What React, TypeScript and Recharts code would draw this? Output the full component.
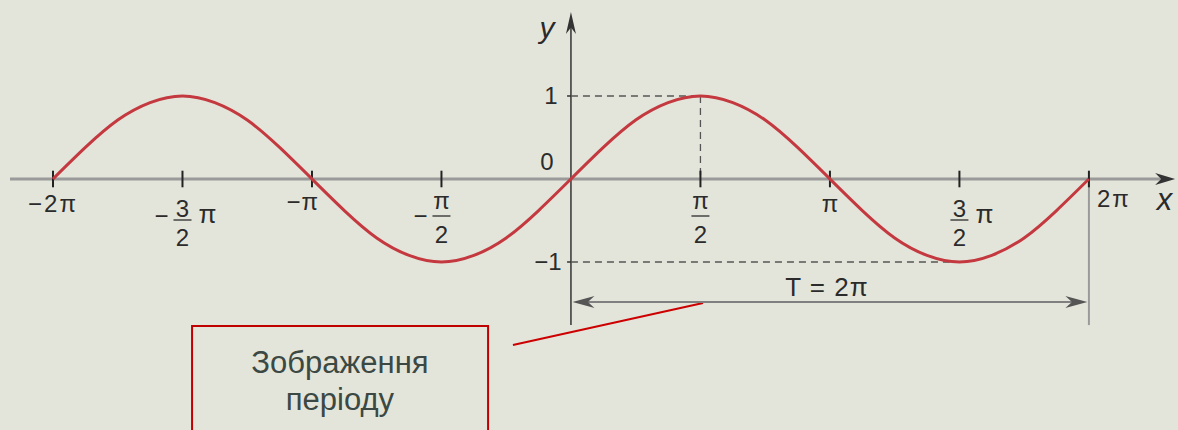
import React from "react";
import {
  LineChart,
  Line,
  XAxis,
  YAxis,
  ReferenceLine,
  ReferenceDot,
  ReferenceArea,
} from "recharts";

// x is in units of pi
const xPi = [
  -2, -1.875, -1.75, -1.625, -1.5, -1.375, -1.25, -1.125, -1, -0.875, -0.75,
  -0.625, -0.5, -0.375, -0.25, -0.125, 0, 0.125, 0.25, 0.375, 0.5, 0.625, 0.75,
  0.875, 1, 1.125, 1.25, 1.375, 1.5, 1.625, 1.75, 1.875, 2,
];
const sinY = [
  0, 0.38, 0.71, 0.92, 1, 0.92, 0.71, 0.38, 0, -0.38, -0.71, -0.92, -1, -0.92,
  -0.71, -0.38, 0, 0.38, 0.71, 0.92, 1, 0.92, 0.71, 0.38, 0, -0.38, -0.71,
  -0.92, -1, -0.92, -0.71, -0.38, 0,
];

const tickValues = [-2, -1.5, -1, -0.5, 0.5, 1, 1.5, 2];
const tickLabels = ["−2π", "−3/2π", "−π", "−π/2", "π/2", "π", "3/2π", "2π"];

const periodLabel = "T = 2π";
const calloutLines = ["Зображення", "періоду"];

const data = xPi.map((x, i) => ({ x, y: sinY[i] }));

const BG = "#e4e5da";
const INK = "#2b2b2b";
const FONT = "'Liberation Sans', Arial, sans-serif";

const txt = (content: string, dx: number, dy: number, opts: any = {}) => (props: any) =>
  (
    <text
      x={props.cx + dx}
      y={props.cy + dy}
      textAnchor={opts.anchor || "middle"}
      fontSize={opts.size || 24}
      fontStyle={opts.italic ? "italic" : "normal"}
      letterSpacing={opts.spacing || 0}
      fill={opts.fill || INK}
      fontFamily={FONT}
    >
      {content}
    </text>
  );

// renders tick labels, including stacked fractions
const tickLabelShape = (label: string, value: number) => (props: any) => {
  const { cx, cy } = props;
  const common = { fill: INK, fontFamily: FONT, fontSize: 24 };
  if (label.includes("/")) {
    const neg = label.startsWith("−");
    const body = neg ? label.slice(1) : label;
    const [num, rest] = body.split("/");
    const den = rest.replace("π", "");
    const trailing = rest.includes("π");
    const piNum = num === "π";
    const barY = cy + (piNum ? 37 : 41);
    return (
      <g>
        {neg && (
          <text x={cx - 21} y={cy + 45} textAnchor="middle" {...common}>
            −
          </text>
        )}
        <text x={cx} y={cy + (piNum ? 30 : 38)} textAnchor="middle" {...common}>
          {num}
        </text>
        <line x1={cx - 9} x2={cx + 9} y1={barY} y2={barY} stroke={INK} strokeWidth={1.3} />
        <text x={cx} y={cy + (piNum ? 64 : 67)} textAnchor="middle" {...common}>
          {den}
        </text>
        {trailing && (
          <text x={cx + 16} y={cy + 44} textAnchor="start" {...common} fontSize={26}>
            π
          </text>
        )}
      </g>
    );
  }
  if (value === 2) {
    return (
      <text x={cx + 8} y={cy + 28} textAnchor="start" letterSpacing={2} {...common}>
        {label}
      </text>
    );
  }
  if (value === -1) {
    return (
      <text x={cx + 7} y={cy + 31} textAnchor="end" letterSpacing={1} {...common}>
        {label}
      </text>
    );
  }
  return (
    <text x={cx} y={cy + 33} textAnchor="middle" letterSpacing={value === -2 ? 2 : 0} {...common}>
      {label}
    </text>
  );
};

const arrow = (dir: "right" | "left" | "up", len: number, half: number, fill: string) => (props: any) => {
  const { cx, cy } = props;
  let pts = "";
  if (dir === "right") pts = `${cx},${cy} ${cx - len},${cy - half} ${cx - len * 0.7},${cy} ${cx - len},${cy + half}`;
  if (dir === "left") pts = `${cx},${cy} ${cx + len},${cy - half} ${cx + len * 0.7},${cy} ${cx + len},${cy + half}`;
  if (dir === "up") pts = `${cx},${cy} ${cx - half},${cy + len} ${cx},${cy + len * 0.7} ${cx + half},${cy + len}`;
  return <polygon points={pts} fill={fill} />;
};

export default function App() {
  return (
    <div style={{ position: "fixed", left: 0, top: 0, width: 1178, height: 430, background: BG }}>
      <LineChart width={1178} height={430} data={data} margin={{ top: 10, right: 0, bottom: 0, left: 10 }}>
        <XAxis type="number" dataKey="x" domain={[-2.166, 2.344]} hide allowDataOverflow />
        <YAxis type="number" domain={[-3.024, 2.036]} hide allowDataOverflow />

        {/* callout box */}
        <ReferenceArea
          x1={-1.463}
          x2={-0.32}
          y1={-1.771}
          y2={-3.3}
          ifOverflow="visible"
          fill="none"
          stroke="#c00000"
          strokeWidth={2}
          fillOpacity={0}
        />
        <ReferenceDot x={-0.892} y={-2.3} ifOverflow="visible" shape={txt(calloutLines[0], 0, 3, { size: 31, fill: "#3b4843" })} />
        <ReferenceDot x={-0.892} y={-2.3} ifOverflow="visible" shape={txt(calloutLines[1], 0, 40, { size: 31, fill: "#3b4843" })} />
        <ReferenceLine
          segment={[{ x: -0.224, y: -2.0 }, { x: 0.51, y: -1.494 }]}
          stroke="#cc0000"
          strokeWidth={2}
          ifOverflow="visible"
        />

        {/* x axis */}
        <ReferenceLine segment={[{ x: -2.166, y: 0 }, { x: 2.3, y: 0 }]} stroke="#9a9a9a" strokeWidth={3} ifOverflow="visible" />
        <ReferenceDot x={2.333} y={0} ifOverflow="visible" shape={arrow("right", 20, 6, "#333")} />
        {/* y axis */}
        <ReferenceLine segment={[{ x: 0, y: 1.85 }, { x: 0, y: -1.76 }]} stroke="#333" strokeWidth={1.5} ifOverflow="visible" />
        <ReferenceDot x={0} y={2.012} ifOverflow="visible" shape={arrow("up", 22, 5, "#333")} />

        {/* guide lines */}
        <ReferenceLine segment={[{ x: 0, y: 1 }, { x: 0.5, y: 1 }]} stroke="#555" strokeWidth={1.3} strokeDasharray="7 5" />
        <ReferenceLine segment={[{ x: 0.5, y: 1 }, { x: 0.5, y: 0 }]} stroke="#555" strokeWidth={1.3} strokeDasharray="7 5" />
        <ReferenceLine segment={[{ x: 0, y: -1 }, { x: 1.5, y: -1 }]} stroke="#555" strokeWidth={1.3} strokeDasharray="7 5" />
        <ReferenceLine segment={[{ x: -0.015, y: 1 }, { x: 0, y: 1 }]} stroke="#333" strokeWidth={1.5} />
        <ReferenceLine segment={[{ x: -0.015, y: -1 }, { x: 0, y: -1 }]} stroke="#333" strokeWidth={1.5} />
        <ReferenceLine segment={[{ x: 2, y: 0 }, { x: 2, y: -1.76 }]} stroke="#9a9a9a" strokeWidth={2} />

        {/* period arrow */}
        <ReferenceLine segment={[{ x: 0.03, y: -1.482 }, { x: 1.97, y: -1.482 }]} stroke="#808080" strokeWidth={2} />
        <ReferenceDot x={0.006} y={-1.482} shape={arrow("left", 22, 6, "#555")} />
        <ReferenceDot x={1.994} y={-1.482} shape={arrow("right", 22, 6, "#555")} />
        <ReferenceDot x={1} y={-1.482} shape={txt(periodLabel, -3, -6, { size: 26, spacing: 1 })} />

        {/* ticks and labels */}
        {tickValues.map((v) => (
          <ReferenceLine key={`t${v}`} segment={[{ x: v, y: 0.1 }, { x: v, y: -0.1 }]} stroke="#222" strokeWidth={2} />
        ))}
        {tickValues.map((v, i) => (
          <ReferenceDot key={`l${v}`} x={v} y={0} shape={tickLabelShape(tickLabels[i], v)} />
        ))}
        <ReferenceDot x={0} y={0} shape={txt("0", -24, -9)} />
        <ReferenceDot x={0} y={1} shape={txt("1", -20, 8)} />
        <ReferenceDot x={0} y={-1} shape={txt("−1", -23, 8)} />
        <ReferenceDot x={0} y={2.012} ifOverflow="visible" shape={txt("y", -24, 26, { italic: true, size: 30 })} />
        <ReferenceDot x={2.3} y={0} ifOverflow="visible" shape={txt("x", -2, 31, { italic: true, size: 31 })} />

        <Line
          dataKey="y"
          type="natural"
          stroke="#c4393f"
          strokeWidth={3}
          dot={false}
          isAnimationActive={false}
        />
      </LineChart>
    </div>
  );
}
